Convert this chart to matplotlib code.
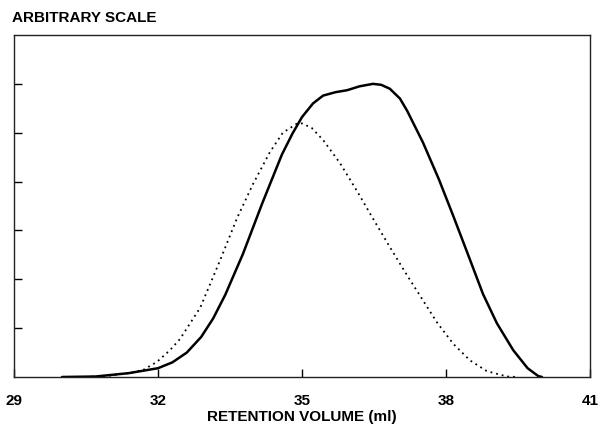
import matplotlib
matplotlib.use("Agg")
import matplotlib.pyplot as plt

# Solid curve
solid_x = [30.0, 30.7, 31.4, 32.0, 32.3, 32.6, 32.9, 33.15, 33.4, 33.77, 34.17, 34.58, 34.8,
           35.0, 35.23, 35.44, 35.7, 35.94, 36.2, 36.48, 36.65, 36.83, 37.04, 37.19, 37.52,
           37.85, 38.15, 38.5, 38.77, 39.06, 39.4, 39.7, 39.92, 40.0]
solid_y = [0.0, 0.01, 0.08, 0.18, 0.3, 0.5, 0.82, 1.2, 1.68, 2.52, 3.55, 4.55, 4.98,
           5.32, 5.6, 5.76, 5.83, 5.87, 5.95, 6.0, 5.98, 5.9, 5.7, 5.45, 4.8,
           4.05, 3.3, 2.4, 1.7, 1.1, 0.55, 0.18, 0.02, 0.0]

# Dotted curve
dotted_x = [30.5, 31.0, 31.4, 31.7, 31.98, 32.25, 32.46, 32.88, 33.29, 33.65, 33.98, 34.33,
            34.6, 34.9, 35.0, 35.2, 35.44, 35.79, 36.15, 36.48, 36.83, 37.19, 37.5, 37.81,
            38.15, 38.5, 38.85, 39.27, 39.5]
dotted_y = [0.0, 0.03, 0.08, 0.15, 0.31, 0.55, 0.78, 1.42, 2.38, 3.26, 3.95, 4.6,
            5.0, 5.19, 5.19, 5.1, 4.85, 4.38, 3.8, 3.24, 2.66, 2.08, 1.6, 1.12,
            0.68, 0.34, 0.12, 0.01, 0.0]

x_ticks = [29, 32, 35, 38, 41]
x_tick_labels = ["29", "32", "35", "38", "41"]
y_ticks = [1, 2, 3, 4, 5, 6]

fig = plt.figure(figsize=(6.01, 4.29), dpi=100)
ax = fig.add_axes([14 / 601, 1 - 377 / 429, 576 / 601, 342 / 429])

ax.plot(solid_x, solid_y, color="black", lw=1.8, solid_joinstyle="round", solid_capstyle="round")
ax.plot(dotted_x, dotted_y, color="black", lw=1.3, linestyle=(0, (1, 2.2)))

ax.set_xlim(29, 41)
ax.set_ylim(0, 7)
ax.set_xticks(x_ticks)
ax.set_xticklabels(x_tick_labels)
ax.set_yticks(y_ticks)
ax.set_yticklabels([])

font = dict(family="Liberation Sans", weight="bold")
for lbl in ax.get_xticklabels():
    lbl.set_fontfamily("Liberation Sans")
    lbl.set_fontweight("bold")
    lbl.set_fontsize(11)

ax.tick_params(axis="x", direction="in", length=6, width=1, pad=12)
ax.tick_params(axis="y", direction="in", length=6, width=1)
for s in ax.spines.values():
    s.set_linewidth(1.0)
    s.set_color("#222222")

ax.set_xlabel("RETENTION VOLUME (ml)", fontsize=11, labelpad=2, **font)
fig.text(12 / 601, 1 - 18 / 429, "ARBITRARY SCALE", ha="left", va="center", fontsize=11, **font)

fig.savefig("out.png", dpi=100)
